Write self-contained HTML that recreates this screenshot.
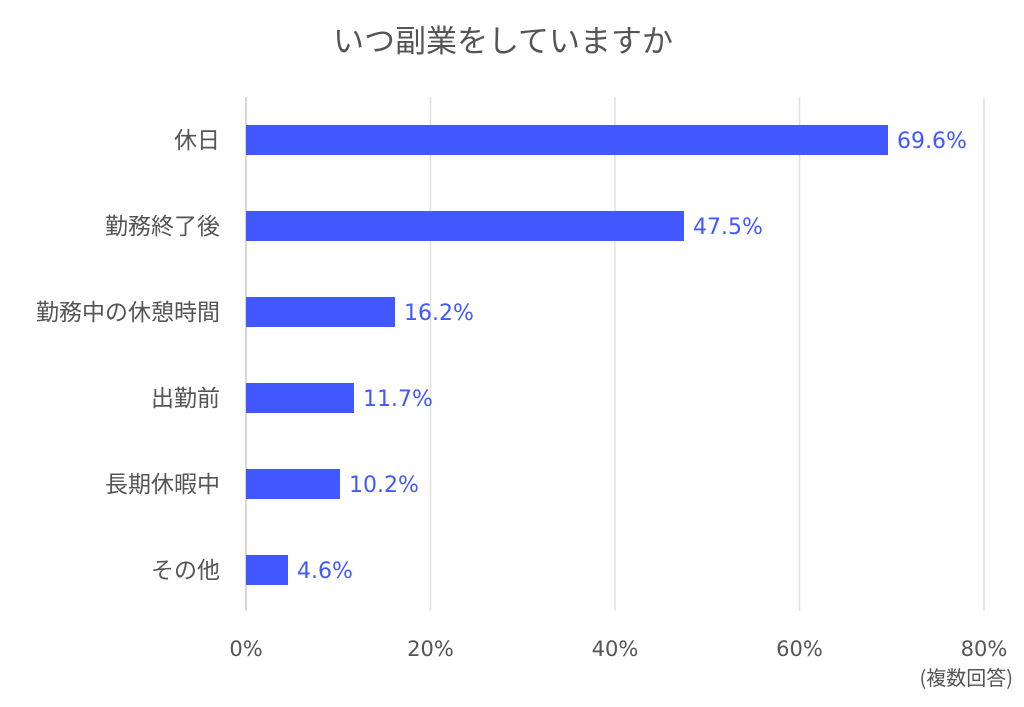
<!DOCTYPE html>
<html><head><meta charset="utf-8"><style>
body{margin:0;background:#fff}
svg{display:block}
text{font-family:"DejaVu Sans","Noto Sans CJK JP",sans-serif}
.j{font-family:"Noto Sans CJK JP",sans-serif}
</style></head><body>
<svg width="1024" height="707" xmlns="http://www.w3.org/2000/svg">
<rect width="1024" height="707" fill="#fff"/>
<text class="j" x="503" y="52" text-anchor="middle" font-size="31" fill="#555">いつ副業をしていますか</text>
<g stroke="#e0e0e0" stroke-width="1.5">
<line x1="430.5" y1="97" x2="430.5" y2="611"/>
<line x1="615" y1="97" x2="615" y2="611"/>
<line x1="799.5" y1="97" x2="799.5" y2="611"/>
<line x1="984" y1="97" x2="984" y2="611"/>
</g>
<line x1="246" y1="97" x2="246" y2="611" stroke="#ccc" stroke-width="1.5"/>
<g fill="#4158ff">
<rect x="246" y="125" width="642" height="30"/>
<rect x="246" y="211" width="438" height="30"/>
<rect x="246" y="297" width="149" height="30"/>
<rect x="246" y="383" width="108" height="30"/>
<rect x="246" y="469" width="94" height="30"/>
<rect x="246" y="555" width="42" height="30"/>
</g>
<g fill="#4158ff" font-size="22">
<text x="897" y="148">69.6%</text>
<text x="693" y="234">47.5%</text>
<text x="404" y="320">16.2%</text>
<text x="363" y="406">11.7%</text>
<text x="349" y="492">10.2%</text>
<text x="297" y="578">4.6%</text>
</g>
<g class="j" fill="#555" font-size="23" text-anchor="end">
<text x="220" y="148">休日</text>
<text x="220" y="234">勤務終了後</text>
<text x="220" y="320">勤務中の休憩時間</text>
<text x="220" y="406">出勤前</text>
<text x="220" y="492">長期休暇中</text>
<text x="220" y="578">その他</text>
</g>
<g fill="#555" font-size="21" text-anchor="middle">
<text x="246" y="656">0%</text>
<text x="430.5" y="656">20%</text>
<text x="615" y="656">40%</text>
<text x="799.5" y="656">60%</text>
<text x="984" y="656">80%</text>
</g>
<text class="j" x="1013" y="685" text-anchor="end" font-size="20" fill="#555">(複数回答)</text>
</svg>
</body></html>
